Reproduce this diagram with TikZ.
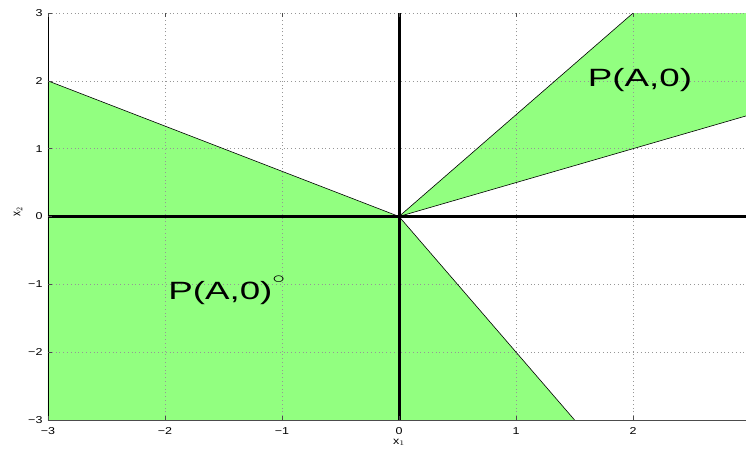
\documentclass[tikz,border=0pt]{standalone}
\usepackage{fontspec}
\setmainfont{Liberation Sans}
\definecolor{cone}{RGB}{146,255,128}
\definecolor{gridc}{RGB}{150,150,150}
\begin{document}
\begin{tikzpicture}[x=117pt,y=67.8pt,
  gridline/.style={gridc,line width=0.5pt,dash pattern=on 0.8pt off 3pt},
  region/.style={fill=cone,draw=black,line width=0.6pt},
  axisline/.style={black,line width=3pt},
  ticklbl/.style={font=\fontsize{10}{11}\selectfont,inner sep=0pt,xscale=1.25},
  biglbl/.style={font=\fontsize{25}{28}\selectfont,inner sep=0pt,xscale=1.47}]
\useasboundingbox (-3.4103,-3.4587) rectangle (2.9658,3.1932);
% fills
\begin{scope}
\clip (-3,-3) rectangle (2.9658,3);
\fill[cone] (-3,2) -- (0,0) -- (1.5,-3) -- (-3,-3) -- cycle;
\fill[cone] (0,0) -- (2,3) -- (3,3) -- (3,1.5) -- cycle;
% grid
\foreach \v in {-2,-1,1,2} {
  \draw[gridline] (\v,-3) -- (\v,3);
  \draw[gridline] (-3,\v) -- (3,\v);
}
\draw[gridline] (-3,3) -- (3,3);
% region edges
\coordinate (O) at (0,0);
\coordinate (A) at (-3,2);
\coordinate (B) at (1.5,-3);
\coordinate (C) at (2,3);
\coordinate (D) at (3,1.5);
\draw[black,line width=0.6pt] (A) -- (O) -- (B);
\draw[black,line width=0.6pt] (C) -- (O) -- (D);
% axes lines
\draw[axisline] (0,-3) -- (0,3);
\draw[axisline] (-3,0) -- (3,0);
\end{scope}
% frame
\draw[black,line width=0.6pt] (-3,-3) -- (-3,3);
\draw[black!70,line width=0.6pt] (-3,-3) -- (3,-3);
\foreach \v in {-3,-2,-1,0,1,2,3} {
  \draw[black!70,line width=0.5pt] (-3,\v) -- ++(4pt,0);
  \draw[black!70,line width=0.5pt] (\v,-3) -- ++(0,4pt);
  \draw[black!70,line width=0.5pt] (\v,3) -- ++(0,-4pt);
}
% tick labels
\foreach \v/\t in {-3/−3,-2/−2,-1/−1,0/0,1/1,2/2,3/3} {
  \node[ticklbl,anchor=east] (yl\v) at (-3.045,\v) {\t};
  \node[ticklbl] (xl\v) at (\v,-3.164) {\t};
}
\node[ticklbl] (xlab) at (0,-3.33) {x$_1$};
\node[ticklbl,rotate=90] (ylab) at (-3.256,0.066) {x$_2$};
% labels
\node[biglbl] (pa) at (2.06,2.013) {P(A,0)};
\node[biglbl,anchor=west] (pao) at (-1.974,-1.084) {P(A,0)\raisebox{16pt}{\fontsize{19}{19}\selectfont$\circ$}};
\end{tikzpicture}
\end{document}
